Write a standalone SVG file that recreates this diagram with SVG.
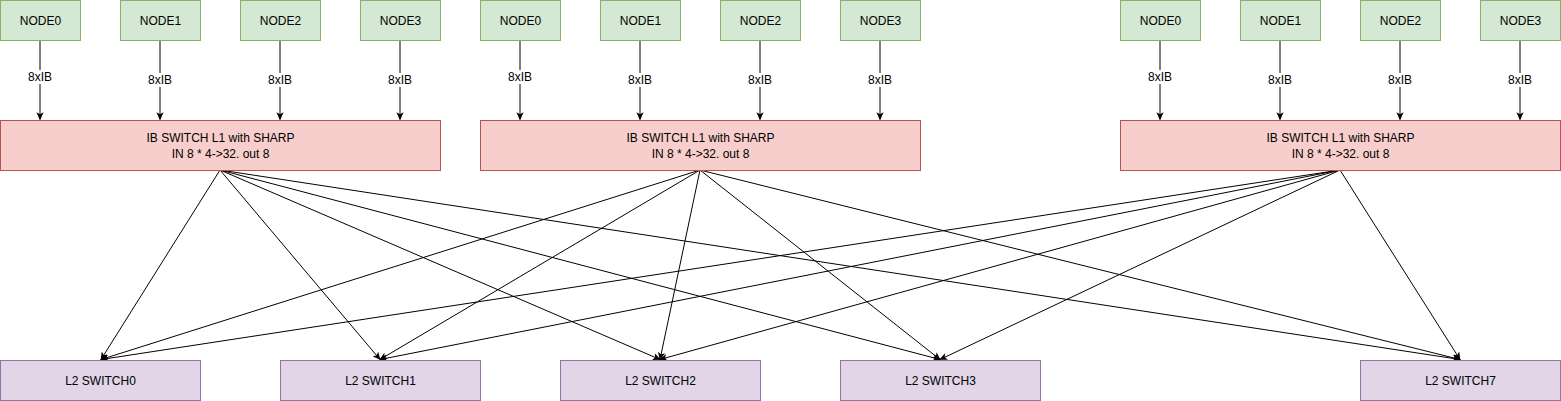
<svg xmlns="http://www.w3.org/2000/svg" width="1561" height="401" viewBox="0 0 1561 401">
<defs>
<marker id="arr" viewBox="0 0 10 10" refX="9" refY="5" markerWidth="8" markerHeight="8" markerUnits="userSpaceOnUse" orient="auto">
<path d="M0,0.5 L10,5 L0,9.5 L2.5,5 z" fill="#000"/>
</marker>
<style>
.node{fill:#d5e8d4;stroke:#82b366;stroke-width:1}
.l1{fill:#f8cecc;stroke:#b85450;stroke-width:1}
.l2{fill:#e1d5e7;stroke:#9673a6;stroke-width:1}
text{font-family:"Liberation Sans",Arial,sans-serif;font-size:12px;fill:#000;text-anchor:middle;dominant-baseline:central}
.e{stroke:#000;stroke-width:1;fill:none;marker-end:url(#arr)}
.lb{fill:#fff}
</style>
</defs>
<rect width="1561" height="401" fill="#fff"/>
<g id="connectors">
<line class="e" x1="40" y1="40.5" x2="40" y2="119.5"/>
<line class="e" x1="160" y1="40.5" x2="160" y2="119.5"/>
<line class="e" x1="280" y1="40.5" x2="280" y2="119.5"/>
<line class="e" x1="400" y1="40.5" x2="400" y2="119.5"/>
<line class="e" x1="520" y1="40.5" x2="520" y2="119.5"/>
<line class="e" x1="640" y1="40.5" x2="640" y2="119.5"/>
<line class="e" x1="760" y1="40.5" x2="760" y2="119.5"/>
<line class="e" x1="880" y1="40.5" x2="880" y2="119.5"/>
<line class="e" x1="1160" y1="40.5" x2="1160" y2="119.5"/>
<line class="e" x1="1280" y1="40.5" x2="1280" y2="119.5"/>
<line class="e" x1="1400" y1="40.5" x2="1400" y2="119.5"/>
<line class="e" x1="1520" y1="40.5" x2="1520" y2="119.5"/>
<rect class="lb" x="27" y="70" width="26" height="14"/>
<rect class="lb" x="147" y="73" width="26" height="14"/>
<rect class="lb" x="267" y="73" width="26" height="14"/>
<rect class="lb" x="387" y="73" width="26" height="14"/>
<rect class="lb" x="507" y="70" width="26" height="14"/>
<rect class="lb" x="627" y="73" width="26" height="14"/>
<rect class="lb" x="747" y="73" width="26" height="14"/>
<rect class="lb" x="867" y="73" width="26" height="14"/>
<rect class="lb" x="1147" y="70" width="26" height="14"/>
<rect class="lb" x="1267" y="73" width="26" height="14"/>
<rect class="lb" x="1387" y="73" width="26" height="14"/>
<rect class="lb" x="1507" y="73" width="26" height="14"/>
<text x="40" y="77">8xIB</text>
<text x="160" y="80">8xIB</text>
<text x="280" y="80">8xIB</text>
<text x="400" y="80">8xIB</text>
<text x="520" y="77">8xIB</text>
<text x="640" y="80">8xIB</text>
<text x="760" y="80">8xIB</text>
<text x="880" y="80">8xIB</text>
<text x="1160" y="77">8xIB</text>
<text x="1280" y="80">8xIB</text>
<text x="1400" y="80">8xIB</text>
<text x="1520" y="80">8xIB</text>
<line class="e" x1="220" y1="170" x2="101" y2="359.5"/>
<line class="e" x1="220" y1="170" x2="380" y2="359.5"/>
<line class="e" x1="220" y1="170" x2="660" y2="359.5"/>
<line class="e" x1="220" y1="170" x2="940" y2="359.5"/>
<line class="e" x1="220" y1="170" x2="1460" y2="359.5"/>
<line class="e" x1="700" y1="170" x2="101" y2="359.5"/>
<line class="e" x1="700" y1="170" x2="380" y2="359.5"/>
<line class="e" x1="700" y1="170" x2="660" y2="359.5"/>
<line class="e" x1="700" y1="170" x2="940" y2="359.5"/>
<line class="e" x1="700" y1="170" x2="1460" y2="359.5"/>
<line class="e" x1="1340" y1="170" x2="101" y2="359.5"/>
<line class="e" x1="1340" y1="170" x2="380" y2="359.5"/>
<line class="e" x1="1340" y1="170" x2="660" y2="359.5"/>
<line class="e" x1="1340" y1="170" x2="940" y2="359.5"/>
<line class="e" x1="1340" y1="170" x2="1460" y2="359.5"/>
</g>
<g id="g1-node0"><rect class="node" x="0.5" y="0.5" width="80" height="40"/><text x="40.5" y="20.5">NODE0</text></g>
<g id="g1-node1"><rect class="node" x="120.5" y="0.5" width="80" height="40"/><text x="160.5" y="20.5">NODE1</text></g>
<g id="g1-node2"><rect class="node" x="240.5" y="0.5" width="80" height="40"/><text x="280.5" y="20.5">NODE2</text></g>
<g id="g1-node3"><rect class="node" x="360.5" y="0.5" width="80" height="40"/><text x="400.5" y="20.5">NODE3</text></g>
<g id="g2-node0"><rect class="node" x="480.5" y="0.5" width="80" height="40"/><text x="520.5" y="20.5">NODE0</text></g>
<g id="g2-node1"><rect class="node" x="600.5" y="0.5" width="80" height="40"/><text x="640.5" y="20.5">NODE1</text></g>
<g id="g2-node2"><rect class="node" x="720.5" y="0.5" width="80" height="40"/><text x="760.5" y="20.5">NODE2</text></g>
<g id="g2-node3"><rect class="node" x="840.5" y="0.5" width="80" height="40"/><text x="880.5" y="20.5">NODE3</text></g>
<g id="g3-node0"><rect class="node" x="1120.5" y="0.5" width="80" height="40"/><text x="1160.5" y="20.5">NODE0</text></g>
<g id="g3-node1"><rect class="node" x="1240.5" y="0.5" width="80" height="40"/><text x="1280.5" y="20.5">NODE1</text></g>
<g id="g3-node2"><rect class="node" x="1360.5" y="0.5" width="80" height="40"/><text x="1400.5" y="20.5">NODE2</text></g>
<g id="g3-node3"><rect class="node" x="1480.5" y="0.5" width="80" height="40"/><text x="1520.5" y="20.5">NODE3</text></g>
<g id="l1-switch-a"><rect class="l1" x="0.5" y="120.5" width="440" height="50"/><text x="220.5" y="137.5">IB SWITCH L1 with SHARP</text><text x="220.5" y="153.5">IN 8 * 4-&gt;32. out 8</text></g>
<g id="l1-switch-b"><rect class="l1" x="480.5" y="120.5" width="440" height="50"/><text x="700.5" y="137.5">IB SWITCH L1 with SHARP</text><text x="700.5" y="153.5">IN 8 * 4-&gt;32. out 8</text></g>
<g id="l1-switch-c"><rect class="l1" x="1120.5" y="120.5" width="440" height="50"/><text x="1340.5" y="137.5">IB SWITCH L1 with SHARP</text><text x="1340.5" y="153.5">IN 8 * 4-&gt;32. out 8</text></g>
<g id="l2-switch0"><rect class="l2" x="0.5" y="360.5" width="200" height="40"/><text x="100.5" y="380.5">L2 SWITCH0</text></g>
<g id="l2-switch1"><rect class="l2" x="280.5" y="360.5" width="200" height="40"/><text x="380.5" y="380.5">L2 SWITCH1</text></g>
<g id="l2-switch2"><rect class="l2" x="560.5" y="360.5" width="200" height="40"/><text x="660.5" y="380.5">L2 SWITCH2</text></g>
<g id="l2-switch3"><rect class="l2" x="840.5" y="360.5" width="200" height="40"/><text x="940.5" y="380.5">L2 SWITCH3</text></g>
<g id="l2-switch7"><rect class="l2" x="1360.5" y="360.5" width="200" height="40"/><text x="1460.5" y="380.5">L2 SWITCH7</text></g>
</svg>
